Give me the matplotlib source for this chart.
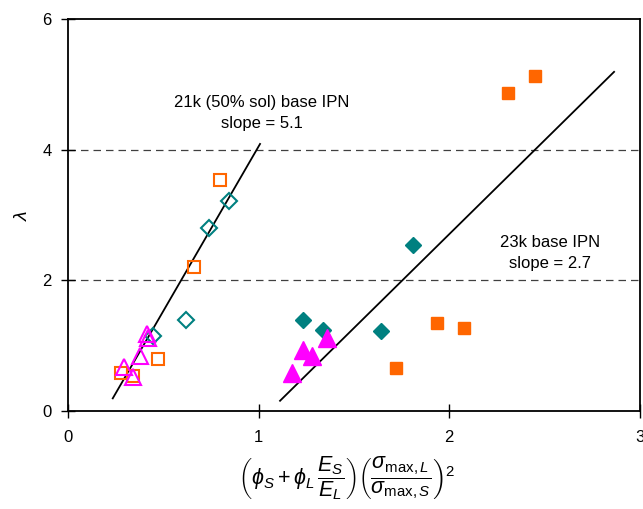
import matplotlib.pyplot as plt

plt.rcParams['font.family'] = ['Liberation Sans', 'DejaVu Sans']
plt.rcParams['mathtext.fontset'] = 'custom'
plt.rcParams['mathtext.rm'] = 'Liberation Sans'
plt.rcParams['mathtext.it'] = 'Liberation Sans:italic'
plt.rcParams['mathtext.bf'] = 'Liberation Sans:bold'

# 21k (50% sol) base IPN - open symbols
sq_open_x = [0.795, 0.662, 0.470, 0.278, 0.342]
sq_open_y = [3.54, 2.20, 0.79, 0.585, 0.54]
dia_open_x = [0.846, 0.739, 0.617, 0.444]
dia_open_y = [3.21, 2.80, 1.385, 1.15]
tri_open_x = [0.413, 0.420, 0.378, 0.295, 0.339]
tri_open_y = [1.17, 1.11, 0.845, 0.667, 0.524]

# 23k base IPN - filled symbols
sq_fill_x = [1.723, 1.938, 2.080, 2.309, 2.450]
sq_fill_y = [0.652, 1.35, 1.27, 4.875, 5.13]
dia_fill_x = [1.809, 1.234, 1.339, 1.640]
dia_fill_y = [2.545, 1.39, 1.237, 1.226]
tri_fill_x = [1.357, 1.234, 1.278, 1.173]
tri_fill_y = [1.12, 0.93, 0.84, 0.575]

# fit lines (end points)
fit1_x = [0.234, 1.007]
fit1_y = [0.19, 4.09]
fit2_x = [1.112, 2.865]
fit2_y = [0.153, 5.195]

orange = '#FF6600'
teal = '#008080'
magenta = '#FF00FF'

fig, ax = plt.subplots(figsize=(6.43, 5.09), dpi=100)
fig.subplots_adjust(left=0.106, right=0.995, top=0.962, bottom=0.193)

ax.axhline(2, color='#404040', ls=(0, (6, 4)), lw=0.9, zorder=1)
ax.axhline(4, color='#404040', ls=(0, (6, 4)), lw=0.9, zorder=1)

ax.plot(fit1_x, fit1_y, color='black', lw=1.3, zorder=2)
ax.plot(fit2_x, fit2_y, color='black', lw=1.3, zorder=2)

ax.plot(sq_open_x, sq_open_y, 's', ms=8.5, mfc='none', mec=orange, mew=1.5, ls='none', zorder=3)
ax.plot(dia_open_x, dia_open_y, 'D', ms=8, mfc='none', mec=teal, mew=1.5, ls='none', zorder=3)
ax.plot(tri_open_x, tri_open_y, '^', ms=11, mfc='none', mec=magenta, mew=1.5, ls='none', zorder=3)

ax.plot(sq_fill_x, sq_fill_y, 's', ms=9, color=orange, ls='none', zorder=3)
ax.plot(dia_fill_x, dia_fill_y, 'D', ms=8.5, color=teal, ls='none', zorder=3)
ax.plot(tri_fill_x, tri_fill_y, '^', ms=13, color=magenta, ls='none', zorder=3)

ax.text(1.017, 4.72, '21k (50% sol) base IPN', ha='center', va='center', fontsize=12)
ax.text(1.017, 4.40, 'slope = 5.1', ha='center', va='center', fontsize=12)
ax.text(2.527, 2.585, '23k base IPN', ha='center', va='center', fontsize=12)
ax.text(2.527, 2.255, 'slope = 2.7', ha='center', va='center', fontsize=12)

ax.set_xlim(0, 3)
ax.set_ylim(0, 6)
ax.set_xticks([0, 1, 2, 3])
ax.set_yticks([0, 2, 4, 6])
ax.tick_params(direction='inout', length=10, width=1, labelsize=12)
ax.tick_params(axis='x', pad=9)
ax.tick_params(axis='y', pad=7)
for s in ax.spines.values():
    s.set_linewidth(1.3)

ax.set_ylabel(r'$\lambda$', fontsize=14, labelpad=8)
ax.set_xlabel(r'$\left(\phi_S+\phi_L\,\dfrac{E_S}{E_L}\right)\left(\dfrac{\sigma_{\mathrm{max},L}}{\sigma_{\mathrm{max},S}}\right)^2$',
              fontsize=15.5)
ax.xaxis.set_label_coords(0.488, -0.11)

fig.savefig('out.png', dpi=100)
